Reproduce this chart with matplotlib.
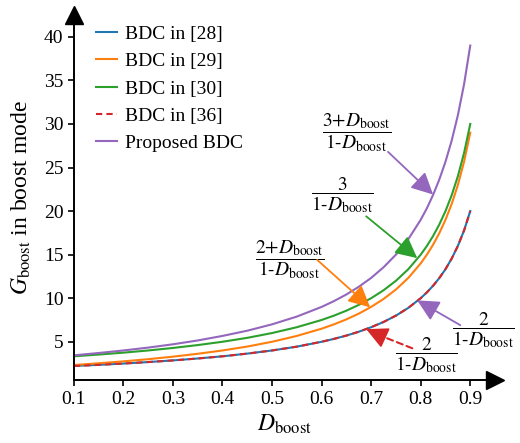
import matplotlib
matplotlib.use("Agg")
from matplotlib import pyplot as plt

plt.rcParams["font.family"] = ["Liberation Serif", "DejaVu Serif"]
plt.rcParams["mathtext.fontset"] = "stix"

# duty ratio and voltage gain values
d_boost = [0.1, 0.15, 0.2, 0.25, 0.3, 0.35, 0.4, 0.45, 0.5, 0.55, 0.6, 0.625,
           0.65, 0.675, 0.7, 0.725, 0.75, 0.775, 0.8, 0.8125, 0.825, 0.8375,
           0.85, 0.8625, 0.875, 0.8875, 0.9]
g_28 = [2.22, 2.35, 2.5, 2.67, 2.86, 3.08, 3.33, 3.64, 4.0, 4.44, 5.0, 5.33,
        5.71, 6.15, 6.67, 7.27, 8.0, 8.89, 10.0, 10.67, 11.43, 12.31,
        13.33, 14.55, 16.0, 17.78, 20.0]
g_29 = [2.33, 2.53, 2.75, 3.0, 3.29, 3.62, 4.0, 4.45, 5.0, 5.67, 6.5, 7.0,
        7.57, 8.23, 9.0, 9.91, 11.0, 12.33, 14.0, 15.0, 16.14, 17.46,
        19.0, 20.82, 23.0, 25.67, 29.0]
g_30 = [3.33, 3.53, 3.75, 4.0, 4.29, 4.62, 5.0, 5.45, 6.0, 6.67, 7.5, 8.0,
        8.57, 9.23, 10.0, 10.91, 12.0, 13.33, 15.0, 16.0, 17.14, 18.46,
        20.0, 21.82, 24.0, 26.67, 30.0]
g_36 = g_28
g_prop = [3.44, 3.71, 4.0, 4.33, 4.71, 5.15, 5.67, 6.27, 7.0, 7.89, 9.0, 9.67,
          10.43, 11.31, 12.33, 13.55, 15.0, 16.78, 19.0, 20.33, 21.86, 23.62,
          25.67, 28.09, 31.0, 34.56, 39.0]

x_ticks = [0.1, 0.2, 0.3, 0.4, 0.5, 0.6, 0.7, 0.8, 0.9]
y_ticks = [5, 10, 15, 20, 25, 30, 35, 40]


def frac(num):
    return r"$\dfrac{%s}{1\text{-}D_{\mathrm{boost}}}$" % num


fig = plt.figure(figsize=(5.2, 4.43), dpi=100)
ax = fig.add_axes([0.142, 0.142, 0.81, 0.824])

ax.plot(d_boost, g_28, color="#1f77b4", lw=1.5, label="BDC in [28]")
ax.plot(d_boost, g_29, color="#ff7f0e", lw=1.5, label="BDC in [29]")
ax.plot(d_boost, g_30, color="#2ca02c", lw=1.5, label="BDC in [30]")
ax.plot(d_boost, g_36, color="#d62728", lw=1.5, ls=(0, (3, 2)), label="BDC in [36]")
ax.plot(d_boost, g_prop, color="#9467bd", lw=1.5, label="Proposed BDC")

ax.set_xlim(0.1, 0.95)
ax.set_ylim(0.6, 42.5)
ax.set_xticks(x_ticks)
ax.set_yticks(y_ticks)
ax.tick_params(labelsize=14, direction="out", length=4, width=1.2, colors="black")
for s in ["top", "right"]:
    ax.spines[s].set_visible(False)
for s in ["left", "bottom"]:
    ax.spines[s].set_linewidth(1.4)
ax.plot(1, 0, ">k", ms=13, transform=ax.transAxes, clip_on=False)
ax.plot(0, 1, "^k", ms=13, transform=ax.transAxes, clip_on=False)

ax.set_xlabel(r"$D_{\mathrm{boost}}$", fontsize=17, labelpad=4)
ax.set_ylabel(r"$G_{\mathrm{boost}}$ in boost mode", fontsize=17, labelpad=8)

ax.legend(loc="upper left", bbox_to_anchor=(0.01, 1.02), frameon=False,
          fontsize=14, handlelength=1.1, handletextpad=0.4, labelspacing=0.5)

# formula labels
ax.text(0.672, 29.0, frac(r"3\text{+}D_{\mathrm{boost}}"), fontsize=14, ha="center", va="center")
ax.text(0.641, 21.8, frac("3"), fontsize=14, ha="center", va="center")
ax.text(0.536, 14.4, frac(r"2\text{+}D_{\mathrm{boost}}"), fontsize=14, ha="center", va="center")
ax.text(0.926, 6.3, frac("2"), fontsize=14, ha="center", va="center")
ax.text(0.811, 3.45, frac("2"), fontsize=14, ha="center", va="center")

# arrows: tip, tail, colour
arrow = dict(arrowstyle="-|>,head_length=0.6,head_width=0.3",
             mutation_scale=22, lw=1.3, shrinkA=0, shrinkB=0)
ax.annotate("", xy=(0.825, 21.9), xytext=(0.734, 26.8),
            arrowprops=dict(arrow, color="#9467bd"))
ax.annotate("", xy=(0.793, 14.6), xytext=(0.690, 19.4),
            arrowprops=dict(arrow, color="#2ca02c"))
ax.annotate("", xy=(0.698, 8.95), xytext=(0.591, 14.4),
            arrowprops=dict(arrow, color="#ff7f0e"))
ax.annotate("", xy=(0.793, 9.75), xytext=(0.880, 6.9),
            arrowprops=dict(arrow, color="#9467bd"))
# dashed red arrow: dashed shaft plus a solid head
ax.annotate("", xy=(0.71, 5.9), xytext=(0.783, 4.25),
            arrowprops=dict(arrowstyle="-", lw=1.5, color="#d62728",
                            ls=(0, (3, 2)), shrinkA=0, shrinkB=0))
ax.annotate("", xy=(0.69, 6.45), xytext=(0.715, 5.8),
            arrowprops=dict(arrow, color="#d62728"))

fig.savefig("out.png", dpi=100)
